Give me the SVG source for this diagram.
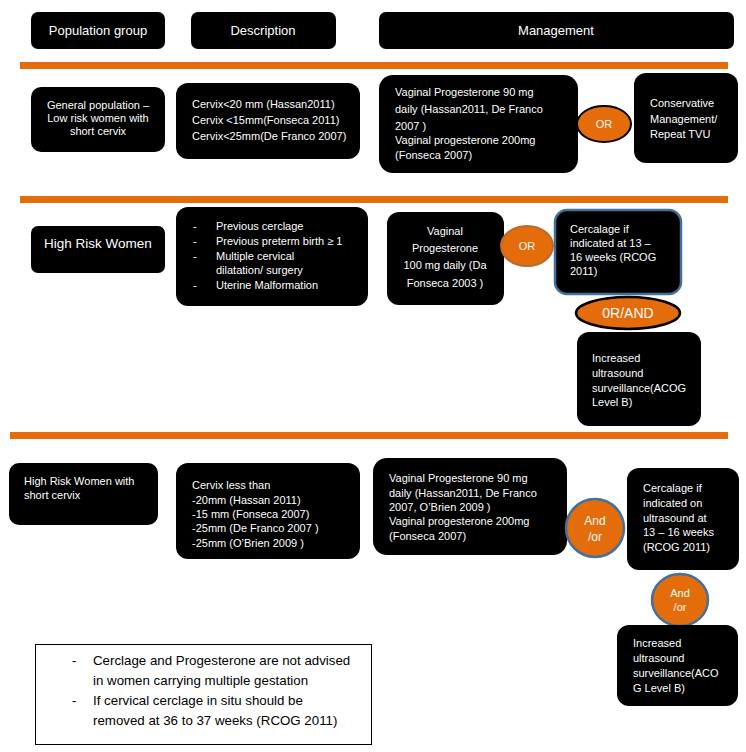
<svg xmlns="http://www.w3.org/2000/svg" width="746" height="752" viewBox="0 0 746 752">
<style>
.box{fill:#000;}
.t{fill:#fff;font-family:"Liberation Sans",Arial,sans-serif;font-size:11px;}
.h{fill:#fff;font-family:"Liberation Sans",Arial,sans-serif;font-size:13px;text-anchor:middle;}
.c{text-anchor:middle;}
.bar{fill:#E46C0A;}
.orb{fill:#E46C0A;}
.n{fill:#000;font-family:"Liberation Sans",Arial,sans-serif;font-size:13.3px;}
</style>
<rect width="746" height="752" fill="#fff"/>
<g id="bars">
<rect class="bar" x="20" y="62" width="708" height="7"/>
<rect class="bar" x="20" y="196" width="708" height="7"/>
<rect class="bar" x="10" y="432" width="718" height="7"/>
</g>
<g id="connectors"></g>
<g id="hdr-population">
<rect class="box" x="31" y="12" width="134" height="37" rx="7"/>
<text class="h" x="98" y="35">Population group</text>
</g>
<g id="hdr-description">
<rect class="box" x="191" y="12" width="145" height="37" rx="7"/>
<text class="h" x="263" y="35">Description</text>
</g>
<g id="hdr-management">
<rect class="box" x="379" y="12" width="355" height="37" rx="7"/>
<text class="h" x="556" y="35">Management</text>
</g>

<g id="r1-group">
<rect class="box" x="31" y="87" width="134" height="65" rx="10"/>
<text class="t c" x="98" y="109">General population –</text>
<text class="t c" x="98" y="122">Low risk women with</text>
<text class="t c" x="98" y="135">short cervix</text>
</g>
<g id="r1-desc">
<rect class="box" x="176" y="83" width="184" height="76" rx="12"/>
<text class="t" x="192" y="108">Cervix&lt;20  mm (Hassan2011)</text>
<text class="t" x="192" y="124">Cervix &lt;15mm(Fonseca 2011)</text>
<text class="t" x="192" y="140">Cervix&lt;25mm(De Franco 2007)</text>
</g>
<g id="r1-mgmt">
<rect class="box" x="379" y="75" width="199" height="98" rx="14"/>
<text class="t" x="395" y="96">Vaginal Progesterone 90 mg</text>
<text class="t" x="395" y="113">daily  (Hassan2011, De Franco</text>
<text class="t" x="395" y="130">2007 )</text>
<text class="t" x="395" y="144">Vaginal progesterone 200mg</text>
<text class="t" x="395" y="159">(Fonseca 2007)</text>
</g>
<g id="r1-or">
<ellipse class="orb" cx="604" cy="124" rx="27" ry="18" stroke="#000" stroke-width="2"/>
<text class="t c" x="604" y="128">OR</text>
</g>
<g id="r1-conservative">
<rect class="box" x="634" y="73" width="104" height="90" rx="12"/>
<text class="t" x="650" y="107">Conservative</text>
<text class="t" x="650" y="123">Management/</text>
<text class="t" x="650" y="138">Repeat TVU</text>
</g>

<g id="r2-group">
<rect class="box" x="31" y="226" width="134" height="47" rx="7"/>
<text class="h" x="98" y="248" style="font-size:13.5px">High Risk Women</text>
</g>
<g id="r2-desc">
<rect class="box" x="176" y="207" width="192" height="99" rx="12"/>
<text class="t" x="193" y="230">-</text><text class="t" x="216" y="230">Previous cerclage</text>
<text class="t" x="193" y="245">-</text><text class="t" x="216" y="245">Previous preterm birth ≥ 1</text>
<text class="t" x="193" y="260">-</text><text class="t" x="216" y="260">Multiple cervical</text>
<text class="t" x="216" y="274">dilatation/ surgery</text>
<text class="t" x="193" y="289">-</text><text class="t" x="216" y="289">Uterine Malformation</text>
</g>
<g id="r2-progesterone">
<rect class="box" x="387" y="212" width="117" height="93" rx="12"/>
<text class="t c" x="445" y="235">Vaginal</text>
<text class="t c" x="445" y="252">Progesterone</text>
<text class="t c" x="445" y="269">100 mg daily (Da</text>
<text class="t c" x="445" y="287">Fonseca 2003 )</text>
</g>
<g id="r2-or">
<ellipse class="orb" cx="527" cy="246" rx="26" ry="20" stroke="#B86A33" stroke-width="2"/>
<text class="t c" x="527" y="250">OR</text>
</g>
<g id="r2-cerclage">
<rect class="box" x="555" y="210" width="126" height="84" rx="12" stroke="#41719C" stroke-width="2.5"/>
<text class="t" x="570" y="233">Cercalage if</text>
<text class="t" x="570" y="247">indicated at 13 –</text>
<text class="t" x="570" y="261">16 weeks  (RCOG</text>
<text class="t" x="570" y="275">2011)</text>
</g>
<g id="r2-orand">
<ellipse class="orb" cx="628" cy="313" rx="52" ry="16" stroke="#000" stroke-width="2.5"/>
<text class="h" x="628" y="318" style="font-size:14px">0R/AND</text>
</g>
<g id="r2-surveillance">
<rect class="box" x="577" y="332" width="124" height="94" rx="12"/>
<text class="t" x="592" y="362">Increased</text>
<text class="t" x="592" y="377">ultrasound</text>
<text class="t" x="592" y="392">surveillance(ACOG</text>
<text class="t" x="592" y="406">Level B)</text>
</g>

<g id="r3-group">
<rect class="box" x="9" y="463" width="149" height="62" rx="10"/>
<text class="t" x="24" y="485">High Risk Women with</text>
<text class="t" x="24" y="499">short cervix</text>
</g>
<g id="r3-desc">
<rect class="box" x="176" y="463" width="184" height="96" rx="12"/>
<text class="t" x="192" y="489">Cervix  less than</text>
<text class="t" x="192" y="504">-20mm (Hassan 2011)</text>
<text class="t" x="192" y="518">-15 mm (Fonseca 2007)</text>
<text class="t" x="192" y="532">-25mm (De Franco 2007 )</text>
<text class="t" x="192" y="547">-25mm (O’Brien 2009 )</text>
</g>
<g id="r3-progesterone">
<rect class="box" x="373" y="458" width="194" height="97" rx="14"/>
<text class="t" x="389" y="482">Vaginal Progesterone 90 mg</text>
<text class="t" x="389" y="497">daily  (Hassan2011, De Franco</text>
<text class="t" x="389" y="511">2007, O’Brien 2009  )</text>
<text class="t" x="389" y="525">Vaginal progesterone 200mg</text>
<text class="t" x="389" y="540">(Fonseca 2007)</text>
</g>
<g id="r3-andor1">
<ellipse class="orb" cx="595" cy="528" rx="29" ry="29" stroke="#41719C" stroke-width="2.5"/>
<text class="t c" x="595" y="525" style="font-size:12px">And</text>
<text class="t c" x="595" y="541" style="font-size:12px">/or</text>
</g>
<g id="r3-cerclage">
<rect class="box" x="627" y="468" width="112" height="102" rx="12"/>
<text class="t" x="643" y="492">Cercalage if</text>
<text class="t" x="643" y="507">indicated on</text>
<text class="t" x="643" y="522">ultrasound  at</text>
<text class="t" x="643" y="536">13 – 16 weeks</text>
<text class="t" x="643" y="551">(RCOG 2011)</text>
</g>
<g id="r3-andor2">
<ellipse class="orb" cx="680" cy="600" rx="28" ry="26" stroke="#41719C" stroke-width="2.5"/>
<text class="t c" x="680" y="597">And</text>
<text class="t c" x="680" y="611">/or</text>
</g>
<g id="r3-surveillance">
<rect class="box" x="617" y="625" width="121" height="81" rx="12"/>
<text class="t" x="633" y="647">Increased</text>
<text class="t" x="633" y="662">ultrasound</text>
<text class="t" x="633" y="677">surveillance(ACO</text>
<text class="t" x="633" y="692">G Level B)</text>
</g>

<g id="note">
<rect x="35.5" y="644.5" width="336" height="100" fill="#fff" stroke="#000" stroke-width="1"/>
<text class="n" x="72" y="665">-</text><text class="n" x="93" y="665">Cerclage and Progesterone are not advised</text>
<text class="n" x="93" y="685">in women carrying multiple gestation</text>
<text class="n" x="72" y="705">-</text><text class="n" x="93" y="705">If cervical cerclage in situ should be</text>
<text class="n" x="93" y="725">removed at 36 to 37 weeks (RCOG 2011)</text>
</g>
</svg>
